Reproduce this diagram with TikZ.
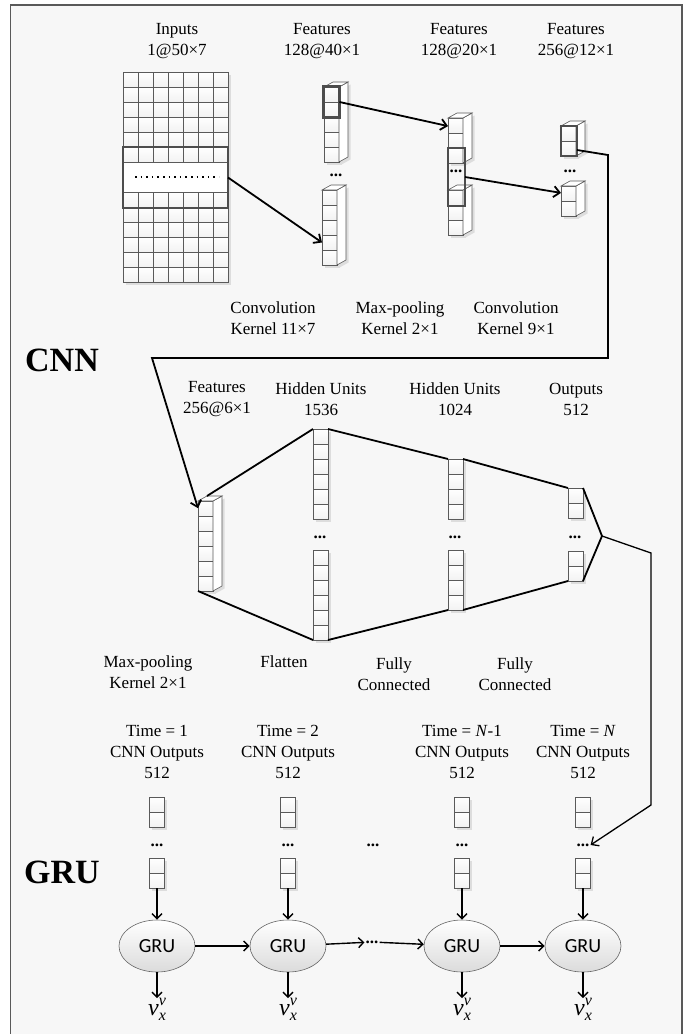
\documentclass[tikz,border=0pt]{standalone}
\usepackage{fontspec}
\setmainfont{Liberation Serif}
\newfontfamily\grufont{Carlito}
\usetikzlibrary{arrows.meta,positioning,calc,shapes.geometric}
\definecolor{paper}{HTML}{F7F7F7}
\definecolor{framegray}{HTML}{595959}
\definecolor{cellgray}{HTML}{5A5A5A}
\definecolor{selgray}{HTML}{4D4D4D}
\definecolor{shadowgray}{HTML}{DDDDDD}

% a stack of n cells: name, left x, top y, n
\newcommand{\cellstack}[4]{%
  \node[stack, minimum height=#4*15pt, anchor=north west] (#1) at (#2,#3) {};
  \fill[shadowgray] ($(#1.north west)+(2.5,2.5)$) rectangle ($(#1.south east)+(2.5,2.5)$);
  \foreach \k in {1,...,#4}
    \draw[cellbox] (#2,{#3+(\k-1)*15}) rectangle ++(15,15);
}
% same stack with a side and a top face
\newcommand{\deepstack}[4]{%
  \cellstack{#1}{#2}{#3}{#4}
  \fill[shadowgray] ($(#1.north east)+(2.5,2.5)$) -- ++(9,-5) -- ($(#1.south east)+(11.5,-2.5)$) -- ($(#1.south east)+(2.5,2.5)$) -- cycle;
  \draw[face] (#1.north east) -- ++(9,-5) -- ($(#1.south east)+(9,-5)$) -- (#1.south east) -- cycle;
  \draw[face] (#1.north west) -- ++(9,-5) -- ++(15,0) -- (#1.north east) -- cycle;
}
% output symbol
\newcommand{\outsym}{\fontsize{24}{26}\selectfont\textit{v}%
  \makebox[0pt][l]{\raisebox{0.42em}{\fontsize{16}{16}\selectfont\textit{v}}}%
  \raisebox{-0.22em}{\fontsize{16}{16}\selectfont\textit{x}}}

\begin{document}
\begin{tikzpicture}[
    x=1pt, y=-1pt,
    lab/.style={font=\fontsize{17}{21}\selectfont, align=center, inner sep=0pt},
    bigtitle/.style={font=\fontsize{34}{40}\selectfont\bfseries, inner sep=0pt},
    stack/.style={rectangle, minimum width=15pt, inner sep=0pt, outer sep=0pt},
    cellbox/.style={draw=cellgray, line width=0.6pt, top color=white, bottom color=black!5},
    face/.style={draw=cellgray, line width=0.6pt, fill=white},
    selbox/.style={rectangle, draw=selgray, line width=2.4pt, inner sep=0pt, outer sep=0pt},
    dots/.style={font=\fontsize{17}{21}\selectfont\bfseries, inner sep=1pt},
    conn/.style={line width=1.8pt, -{Straight Barb[length=6pt, width=11pt]}},
    fcline/.style={line width=1.8pt},
    thinconn/.style={line width=1.3pt, -{Straight Barb[length=6pt, width=11pt]}},
    garrow/.style={line width=1.4pt, -{Straight Barb[length=5pt, width=10pt]}},
    grunode/.style={ellipse, draw=black!60, line width=0.6pt, top color=white, bottom color=black!14,
                    minimum width=76pt, minimum height=52pt, inner sep=0pt, font=\grufont\fontsize{20}{22}\selectfont}
]
    \useasboundingbox (0,0) rectangle (699,1034);
    \draw[framegray, line width=1.5pt, fill=paper] (10.5,5) rectangle (682,1045);

    % inputs
    \node[stack, minimum width=105pt, minimum height=210pt, anchor=north west] (inputs) at (123,72) {};
    \fill[shadowgray] (125.5,74.5) rectangle (230.5,284.5);
    \fill[white] (123,162) rectangle (228,192);
    \foreach \r in {0,1,2,3,4,5,8,9,10,11,12,13}
      \foreach \c in {0,...,6}
        \draw[cellbox] ({123+15*\c},{72+15*\r}) rectangle ++(15,15);
    \draw[line width=1.6pt, dash pattern=on 1.6pt off 4pt] (135,177) -- (219,177);
    \node[selbox, minimum width=105pt, minimum height=61pt, anchor=north west] (gridsel) at (123,147) {};

    % convolution features
    \deepstack{f1a}{324}{87}{5}
    \deepstack{f1b}{322}{190}{5}
    \node[dots] (f1dots) at (336,175) {...};
    \node[selbox, minimum width=16pt, minimum height=31pt, anchor=north west] (f1sel) at (323.5,86.5) {};

    % max-pooling features
    \deepstack{f2a}{448}{118}{3}
    \deepstack{f2b}{448}{190}{3}
    \node[dots] (f2dots) at (456,171) {...};
    \node[selbox, minimum width=17pt, minimum height=58pt, anchor=north west] (f2sel) at (448,148) {};

    % second convolution features
    \deepstack{f3a}{561}{126}{2}
    \deepstack{f3b}{561}{186}{2}
    \node[dots] (f3dots) at (570,171) {...};
    \node[selbox, minimum width=16pt, minimum height=30pt, anchor=north west] (f3sel) at (561,126) {};

    % fully connected part
    \deepstack{f4}{198}{501}{6}
    \cellstack{h1a}{313}{429}{6}
    \cellstack{h1b}{313}{550}{6}
    \node[dots] (h1dots) at (320,537) {...};
    \cellstack{h2a}{448}{459}{4}
    \cellstack{h2b}{448}{550}{4}
    \node[dots] (h2dots) at (455,537) {...};
    \cellstack{o1a}{568}{488}{2}
    \cellstack{o1b}{568}{551}{2}
    \node[dots] (o1dots) at (575,537) {...};

    % labels
    \node[lab] (linputs) at (177,41) {Inputs\\1@50×7};
    \node[lab] (lf1) at (322,41) {Features\\128@40×1};
    \node[lab] (lf2) at (459,41) {Features\\128@20×1};
    \node[lab] (lf3) at (576,41) {Features\\256@12×1};
    \node[lab] (lconv1) at (273,318) {Convolution\\Kernel 11×7};
    \node[lab] (lpool1) at (400,318) {Max-pooling\\Kernel 2×1};
    \node[lab] (lconv2) at (516,318) {Convolution\\Kernel 9×1};
    \node[bigtitle] (cnnlab) at (62,360) {CNN};
    \node[lab] (lf4) at (217,399) {Features\\256@6×1};
    \node[lab] (lh1) at (321,399) {Hidden Units\\1536};
    \node[lab] (lh2) at (455,399) {Hidden Units\\1024};
    \node[lab] (lo1) at (576,399) {Outputs\\512};
    \node[lab] (lpool2) at (148,672) {Max-pooling\\Kernel 2×1};
    \node[lab] (lflat) at (284,662) {Flatten};
    \node[lab] (lfc1) at (394,674) {Fully\\Connected};
    \node[lab] (lfc2) at (515,674) {Fully\\Connected};

    % connectors of the convolution part
    \draw[conn] (gridsel.east) -- ($(f1b.north west)!0.7!(f1b.south west)$);
    \draw[conn] (f1sel.east) -- ($(f2a.north west)!0.18!(f2a.south west)$);
    \draw[conn] (f2sel.east) -- ($(f3b.north west)!0.23!(f3b.south west)$);
    \coordinate (bendA) at (608,155);
    \coordinate (bendB) at (608,358);
    \coordinate (bendC) at (152,358);
    \draw[conn] ($(f3sel.north east)!0.8!(f3sel.south east)$) -- (bendA) -- (bendB) -- (bendC)
        -- ($(f4.north west)!0.08!(f4.south west)$);

    % fully connected lines
    \coordinate (merge) at (602,536);
    \draw[fcline] ($(f4.north west)+(9,-5)$) -- (h1a.north west);
    \draw[fcline] (h1a.north east) -- (h2a.north west);
    \draw[fcline] (h2a.north east) -- (o1a.north west);
    \draw[fcline] (o1a.north east) -- (merge);
    \draw[fcline] (f4.south west) -- (h1b.south west);
    \draw[fcline] (h1b.south east) -- (h2b.south west);
    \draw[fcline] (h2b.south east) -- (o1b.south west);
    \draw[fcline] (o1b.south east) -- (merge);

    % GRU part
    \node[bigtitle] (grulab) at (62,872) {GRU};
    \foreach \n/\x/\t in {1/157/1, 2/288/2, 3/462/\textit{N}-1, 4/583/\textit{N}} {
      \node[lab] (lt\n) at (\x,752) {Time = \t\\CNN Outputs\\512};
      \cellstack{g\n a}{\x-7.5}{797}{2}
      \cellstack{g\n b}{\x-7.5}{858}{2}
      \node[dots] (d\n) at (\x,845) {...};
      \node[grunode] (gru\n) at (\x,946) {GRU};
      \node[inner sep=0pt, anchor=north] (out\n) at (\x,998) {\outsym};
      \draw[garrow] (g\n b.south) -- (gru\n.north);
      \draw[garrow] (gru\n.south) -- (out\n.north);
    }
    \node[dots] (dmid) at (373,845) {...};
    \node[dots] (dchain) at (372,942) {...};
    \draw[garrow] (gru1) -- (gru2);
    \draw[garrow] (gru2) -- (dchain);
    \draw[garrow] (dchain) -- (gru3);
    \draw[garrow] (gru3) -- (gru4);

    % from the outputs down to the last step
    \coordinate (bendD) at (651,553);
    \coordinate (bendE) at (651,805);
    \draw[thinconn] (merge) -- (bendD) -- (bendE) -- (d4.east);
\end{tikzpicture}
\end{document}
